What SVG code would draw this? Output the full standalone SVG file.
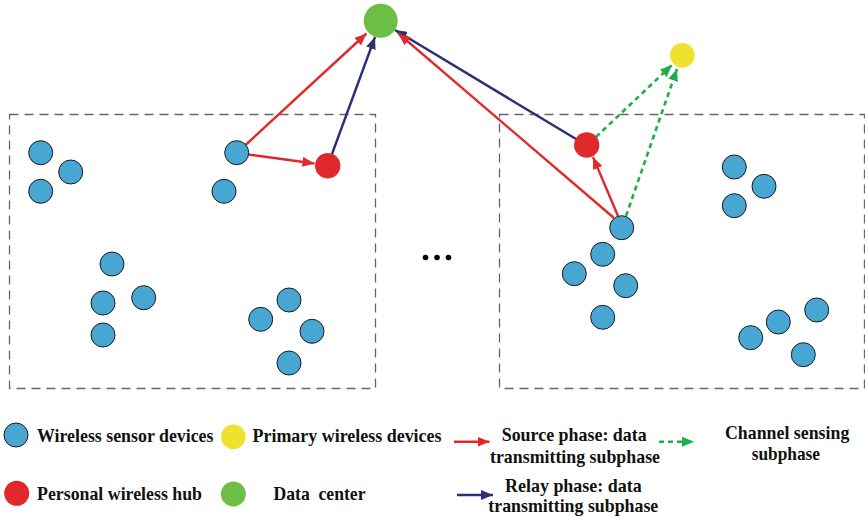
<svg xmlns="http://www.w3.org/2000/svg" width="865" height="520" viewBox="0 0 865 520">
<style>
.box{fill:none;stroke:#666;stroke-width:1.3;stroke-dasharray:9,6}
.ws{fill:#48A6D3;stroke:#1a1a1a;stroke-width:1}
.hub{fill:#E0292B}
.dc{fill:#6DBE45}
.pw{fill:#EEE22C}
.src{stroke:#E0292B;stroke-width:2.4;fill:none}
.rel{stroke:#2B2F74;stroke-width:2.4;fill:none}
.cs{stroke:#1DB04A;stroke-width:2.6;fill:none;stroke-dasharray:5,4}
text{font-family:"Liberation Serif","Times New Roman",serif;font-weight:bold;font-size:19px;fill:#111}
</style>
<defs>
<marker id="ar" markerUnits="userSpaceOnUse" markerWidth="12" markerHeight="10" refX="12" refY="5" orient="auto"><path d="M0,0 L12,5 L0,10 z" fill="#E0292B"/></marker>
<marker id="an" markerUnits="userSpaceOnUse" markerWidth="12" markerHeight="10" refX="12" refY="5" orient="auto"><path d="M0,0 L12,5 L0,10 z" fill="#2B2F74"/></marker>
<marker id="ag" markerUnits="userSpaceOnUse" markerWidth="12" markerHeight="10" refX="12" refY="5" orient="auto"><path d="M0,0 L12,5 L0,10 z" fill="#1DB04A"/></marker>
</defs>
<rect class="box" x="9.5" y="114.5" width="366" height="274"/>
<rect class="box" x="499.5" y="114.5" width="365" height="274"/>
<g id="connectors">
<line class="src" x1="245" y1="145.5" x2="366.5" y2="33.5" marker-end="url(#ar)"/>
<line class="src" x1="248" y1="154.5" x2="314.5" y2="163.5" marker-end="url(#ar)"/>
<line class="rel" x1="332" y1="154" x2="375" y2="37" marker-end="url(#an)"/>
<line class="rel" x1="576" y1="139" x2="395" y2="30" marker-end="url(#an)"/>
<line class="src" x1="614" y1="218" x2="398.5" y2="33.5" marker-end="url(#ar)"/>
<line class="src" x1="618" y1="216" x2="593" y2="157" marker-end="url(#ar)"/>
<line class="cs" x1="596" y1="137" x2="672" y2="65" marker-end="url(#ag)"/>
<line class="cs" x1="626" y1="216" x2="677" y2="69" marker-end="url(#ag)"/>
</g>
<g id="data-center"><circle class="dc" cx="380.7" cy="20.7" r="17"/></g>
<g id="primary-device"><circle class="pw" cx="682.3" cy="55.3" r="12.3"/></g>
<g id="hub-left"><circle class="hub" cx="327.7" cy="165.7" r="12.7"/></g>
<g id="hub-right"><circle class="hub" cx="586.7" cy="145" r="12.7"/></g>
<g id="sensors-left">
<circle class="ws" cx="40.7" cy="152.7" r="12"/>
<circle class="ws" cx="70.7" cy="172" r="12"/>
<circle class="ws" cx="40.7" cy="191.3" r="12"/>
<circle class="ws" cx="236.7" cy="152.7" r="12"/>
<circle class="ws" cx="224" cy="191.3" r="12"/>
<circle class="ws" cx="112" cy="264" r="12"/>
<circle class="ws" cx="103" cy="303" r="12"/>
<circle class="ws" cx="143.7" cy="297.7" r="12"/>
<circle class="ws" cx="103" cy="335" r="12"/>
<circle class="ws" cx="289" cy="300" r="12"/>
<circle class="ws" cx="260.7" cy="319.3" r="12"/>
<circle class="ws" cx="312" cy="331.3" r="12"/>
<circle class="ws" cx="289" cy="363" r="12"/>
</g>
<g id="sensors-right">
<circle class="ws" cx="621.7" cy="227.7" r="12"/>
<circle class="ws" cx="602.7" cy="254.3" r="12"/>
<circle class="ws" cx="574.3" cy="273.7" r="12"/>
<circle class="ws" cx="625.7" cy="285.7" r="12"/>
<circle class="ws" cx="602.7" cy="317.3" r="12"/>
<circle class="ws" cx="734.3" cy="167" r="12"/>
<circle class="ws" cx="764" cy="186.3" r="12"/>
<circle class="ws" cx="734.3" cy="205.7" r="12"/>
<circle class="ws" cx="816.7" cy="310" r="12"/>
<circle class="ws" cx="778.3" cy="322" r="12"/>
<circle class="ws" cx="750.7" cy="337.7" r="12"/>
<circle class="ws" cx="803.3" cy="354.7" r="12"/>
</g>
<g id="ellipsis" fill="#000">
<circle cx="425.5" cy="257.5" r="2.8"/>
<circle cx="437" cy="257.5" r="2.8"/>
<circle cx="448.5" cy="257.5" r="2.8"/>
</g>
<g id="legend">
<circle class="ws" cx="16" cy="435" r="12"/>
<text x="37" y="442" textLength="176.5" lengthAdjust="spacingAndGlyphs">Wireless sensor devices</text>
<circle class="pw" cx="233.3" cy="436.7" r="12.3"/>
<text x="252.5" y="442" textLength="189" lengthAdjust="spacingAndGlyphs">Primary wireless devices</text>
<circle class="hub" cx="16.7" cy="493.3" r="12.5"/>
<text x="37" y="500" textLength="165" lengthAdjust="spacingAndGlyphs">Personal wireless hub</text>
<circle class="dc" cx="233.3" cy="494" r="12.5"/>
<text x="273.5" y="500" xml:space="preserve" textLength="92" lengthAdjust="spacingAndGlyphs">Data  center</text>
<line class="src" x1="454" y1="441.7" x2="489.5" y2="441.7" marker-end="url(#ar)"/>
<text x="501.7" y="441" textLength="145" lengthAdjust="spacingAndGlyphs">Source phase: data</text>
<text x="490" y="462.5" textLength="170" lengthAdjust="spacingAndGlyphs">transmitting subphase</text>
<line class="cs" x1="659" y1="441.7" x2="694" y2="441.7" marker-end="url(#ag)"/>
<text x="725" y="438.5" textLength="124.3" lengthAdjust="spacingAndGlyphs">Channel sensing</text>
<text x="751.7" y="459.5" textLength="68.3" lengthAdjust="spacingAndGlyphs">subphase</text>
<line class="rel" x1="457" y1="495" x2="493" y2="495" marker-end="url(#an)"/>
<text x="505" y="491.5" textLength="136.7" lengthAdjust="spacingAndGlyphs">Relay phase: data</text>
<text x="488.3" y="512" textLength="170" lengthAdjust="spacingAndGlyphs">transmitting subphase</text>
</g>
</svg>
